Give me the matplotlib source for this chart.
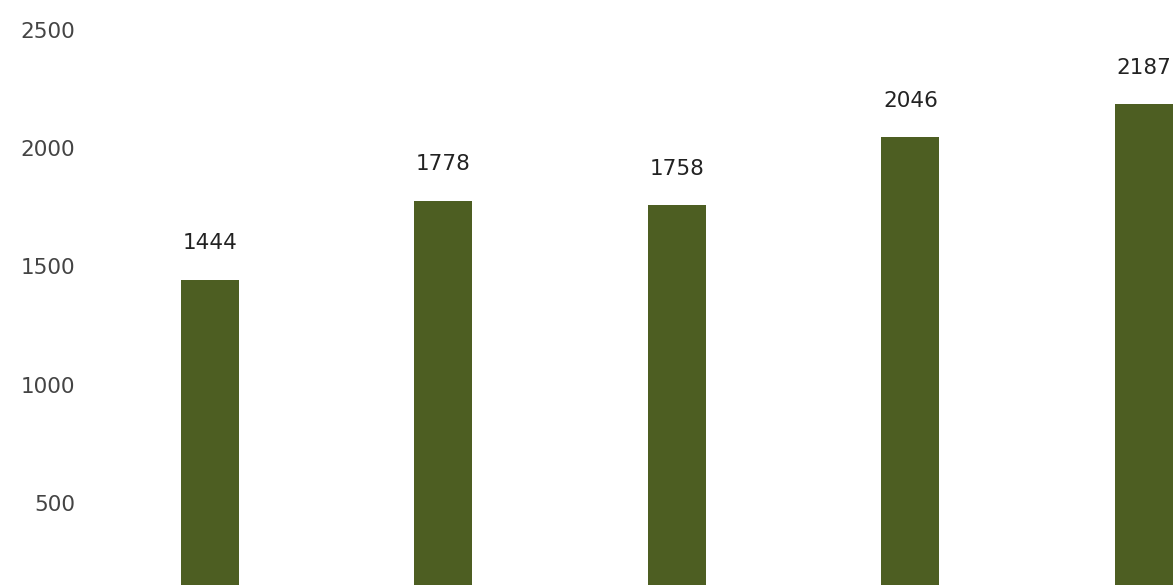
import matplotlib.pyplot as plt

# bar values (x labels are cropped out of the picture)
positions = [0, 1, 2, 3, 4]
values = [1444, 1778, 1758, 2046, 2187]
yticks = [500, 1000, 1500, 2000, 2500]

fig = plt.figure(figsize=(11.75, 5.85), dpi=100)
ax = fig.add_axes([0, 0, 1, 1])

bars = ax.bar(positions, values, width=0.248, color="#4d5e22")

for b, v in zip(bars, values):
    ax.annotate(str(v), (b.get_x() + b.get_width() / 2, v),
                xytext=(0, 19), textcoords="offset points",
                ha="center", va="bottom", fontsize=15.5, color="#222222")

ax.set_xlim(-0.899, 4.133)
ax.set_ylim(153, 2627)
ax.set_xticks([])
ax.set_yticks(yticks)
ax.set_yticklabels([str(t) for t in yticks])
ax.tick_params(axis="y", direction="in", length=0, pad=-54,
               labelsize=15.5, labelcolor="#444444")
for s in ax.spines.values():
    s.set_visible(False)

fig.savefig("out.png", dpi=100)
